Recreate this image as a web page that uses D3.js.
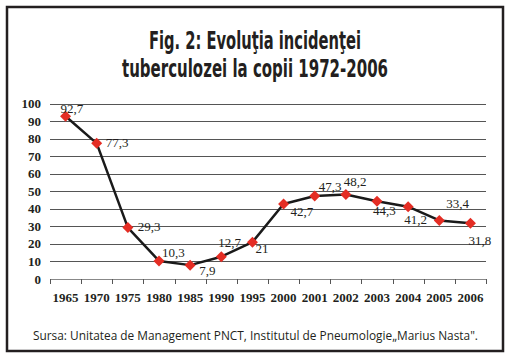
<!DOCTYPE html>
<html>
<head>
<meta charset="utf-8">
<script src="https://cdn.jsdelivr.net/npm/d3@7"></script>
<style>
  html, body { margin: 0; padding: 0; background: #fff; }
  svg { display: block; }
</style>
</head>
<body>
<svg id="chart" width="511" height="360"></svg>
<script>
// ---- Data ----
const years = ["1965","1970","1975","1980","1985","1990","1995","2000","2001","2002","2003","2004","2005","2006"];
const incidence = [92.7, 77.3, 29.3, 10.3, 7.9, 12.7, 21, 42.7, 47.3, 48.2, 44.3, 41.2, 33.4, 31.8];
const valueLabels = ["92,7","77,3","29,3","10,3","7,9","12,7","21","42,7","47,3","48,2","44,3","41,2","33,4","31,8"];
const yTicks = [0, 10, 20, 30, 40, 50, 60, 70, 80, 90, 100];
const titleLines = ["Fig. 2: Evoluţia incidenţei", "tuberculozei la copii 1972-2006"];
const sourceText = "Sursa: Unitatea de Management PNCT, Institutul de Pneumologie\u201EMarius Nasta\".";

// ---- Layout (label offsets relative to each point) ----
const labelOffsets = [[-5,-3],[9,4],[10,3],[3,-4],[9,10],[-3,-10],[3,11],[7,12],[4,-5],[-2,-8],[-4,14],[-4,17],[7,-12],[-2,22]];

const svg = d3.select("#chart");
svg.append("rect").attr("x", 0).attr("y", 0).attr("width", 511).attr("height", 360).attr("fill", "#fff");
svg.append("rect").attr("x", 7).attr("y", 7).attr("width", 496).attr("height", 344)
  .attr("fill", "none").attr("stroke", "#231f20").attr("stroke-width", 2.5);

// Title
const titleFont = "'Liberation Sans Narrow','DejaVu Sans Condensed','Roboto Condensed','Liberation Sans',sans-serif";
const titleWidths = [212, 266];
const titleY = [49, 77];
titleLines.forEach((t, i) => {
  svg.append("text").attr("x", 255).attr("y", titleY[i])
    .attr("text-anchor", "middle")
    .attr("font-family", titleFont).attr("font-weight", "bold").attr("font-size", 24)
    .attr("fill", "#231f20")
    .attr("textLength", titleWidths[i]).attr("lengthAdjust", "spacingAndGlyphs")
    .text(t);
});

// Scales
const x = d3.scaleBand().domain(years).range([50, 486]).padding(0);
const y = d3.scaleLinear().domain([0, 100]).range([279, 103.5]);
const cx = d => x(d) + x.bandwidth() / 2;

const serif = "'Liberation Serif','Times New Roman',serif";

// Gridlines
svg.append("g").selectAll("line").data(yTicks).join("line")
  .attr("x1", 50).attr("x2", 486)
  .attr("y1", d => Math.round(y(d)) + 0.5).attr("y2", d => Math.round(y(d)) + 0.5)
  .attr("stroke", d => d === 0 ? "#888" : "#555").attr("stroke-width", 1);

// Y tick labels
svg.append("g").selectAll("text").data(yTicks).join("text")
  .attr("x", 41).attr("y", d => y(d)).attr("dy", "0.35em")
  .attr("text-anchor", "end")
  .attr("font-family", serif).attr("font-weight", "bold").attr("font-size", 13)
  .attr("fill", "#231f20")
  .text(d => d);

// X ticks at band boundaries
const boundaries = years.map(d => x(d)).concat([x.range()[1]]);
svg.append("g").selectAll("line").data(boundaries).join("line")
  .attr("x1", d => Math.round(d) + 0.5).attr("x2", d => Math.round(d) + 0.5)
  .attr("y1", 279).attr("y2", 284)
  .attr("stroke", "#555").attr("stroke-width", 1);

// X labels
svg.append("g").selectAll("text").data(years).join("text")
  .attr("x", d => cx(d)).attr("y", 302)
  .attr("text-anchor", "middle")
  .attr("font-family", serif).attr("font-weight", "bold").attr("font-size", 13)
  .attr("fill", "#231f20")
  .text(d => d);

// Line
const pts = years.map((yr, i) => ({ yr, v: incidence[i], lab: valueLabels[i], off: labelOffsets[i] }));
svg.append("path").datum(pts)
  .attr("d", d3.line().x(d => cx(d.yr)).y(d => y(d.v)))
  .attr("fill", "none").attr("stroke", "#1a1a1a").attr("stroke-width", 2.5)
  .attr("stroke-linejoin", "round");

// Diamond markers
svg.append("g").selectAll("path").data(pts).join("path")
  .attr("transform", d => `translate(${cx(d.yr)},${y(d.v)})`)
  .attr("d", "M0,-5.5L5.5,0L0,5.5L-5.5,0Z")
  .attr("fill", "#e42d24");

// Value labels
svg.append("g").selectAll("text").data(pts).join("text")
  .attr("x", d => cx(d.yr) + d.off[0]).attr("y", d => y(d.v) + d.off[1])
  .attr("font-family", serif).attr("font-size", 13)
  .attr("fill", "#231f20")
  .text(d => d.lab);

// Source
svg.append("text").attr("x", 255.5).attr("y", 340).attr("text-anchor", "middle")
  .attr("font-family", "'Open Sans','Noto Sans','Liberation Sans',sans-serif").attr("font-size", 12)
  .attr("fill", "#231f20")
  .attr("textLength", 445).attr("lengthAdjust", "spacingAndGlyphs")
  .text(sourceText);
</script>
</body>
</html>
